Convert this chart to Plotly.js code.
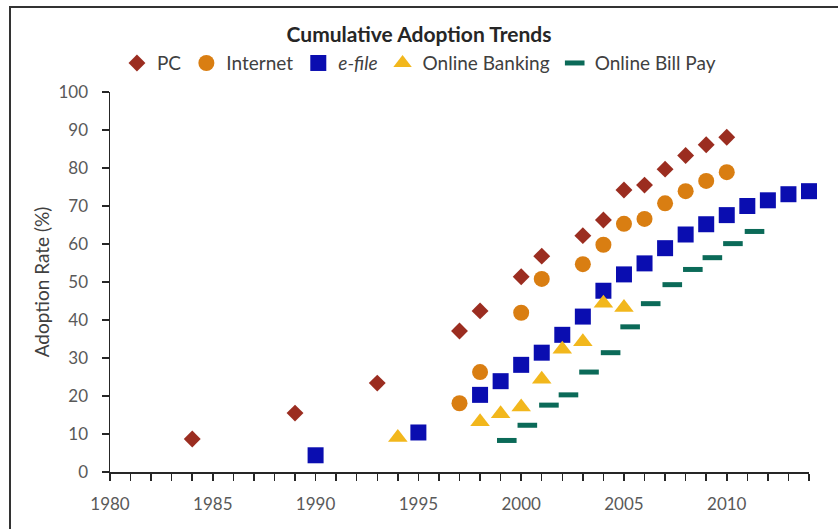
<!DOCTYPE html>
<html>
<head>
<meta charset="utf-8">
<script src="https://cdn.plot.ly/plotly-3.0.1.min.js"></script>
<style>
  html, body { margin: 0; padding: 0; background: #ffffff; }
  #chart { width: 838px; height: 529px; }
</style>
</head>
<body>
<div id="chart"></div>
<script>
// ---- Data ----
const pcYears = [1984, 1989, 1993, 1997, 1998, 2000, 2001, 2003, 2004, 2005, 2006, 2007, 2008, 2009, 2010];
const pcValues = [8.7, 15.5, 23.4, 37.1, 42.4, 51.4, 56.8, 62.2, 66.3, 74.2, 75.5, 79.7, 83.3, 86.1, 88.1];

const internetYears = [1997, 1998, 2000, 2001, 2003, 2004, 2005, 2006, 2007, 2008, 2009, 2010];
const internetValues = [18.1, 26.3, 41.9, 50.8, 54.7, 59.8, 65.3, 66.6, 70.7, 73.9, 76.6, 78.9];

const efileYears = [1990, 1995, 1998, 1999, 2000, 2001, 2002, 2003, 2004, 2005, 2006, 2007, 2008, 2009, 2010, 2011, 2012, 2013, 2014];
const efileValues = [4.4, 10.4, 20.3, 23.9, 28.2, 31.4, 36.1, 40.9, 47.7, 52.0, 54.9, 58.9, 62.5, 65.2, 67.6, 70.0, 71.5, 73.1, 73.9];

const bankingYears = [1994, 1998, 1999, 2000, 2001, 2002, 2003, 2004, 2005];
const bankingValues = [9.1, 13.2, 15.3, 17.1, 24.4, 32.3, 34.3, 44.4, 43.3];

const billPayYears = [1999.3, 2000.3, 2001.35, 2002.3, 2003.3, 2004.35, 2005.3, 2006.3, 2007.35, 2008.35, 2009.3, 2010.3, 2011.35];
const billPayValues = [8.3, 12.3, 17.6, 20.3, 26.3, 31.4, 38.2, 44.3, 49.3, 53.3, 56.4, 60.1, 63.3];

const seriesNames = ['PC', 'Internet', '<i>e-file</i>', 'Online Banking', 'Online Bill Pay'];
const chartTitle = 'Cumulative Adoption Trends';
const yAxisTitle = 'Adoption Rate (%)';
const xRange = [1980, 2014];
const yRange = [0, 100];

const FONT = 'Lato, "Open Sans", sans-serif';

const traces = [
  {
    x: pcYears, y: pcValues, name: seriesNames[0], type: 'scatter', mode: 'markers', cliponaxis: false,
    marker: { symbol: 'diamond', size: 13, color: '#9B2D20', line: { width: 0 } }
  },
  {
    x: internetYears, y: internetValues, name: seriesNames[1], type: 'scatter', mode: 'markers', cliponaxis: false,
    marker: { symbol: 'circle', size: 16, color: '#D97E12', line: { width: 0 } }
  },
  {
    x: efileYears, y: efileValues, name: seriesNames[2], type: 'scatter', mode: 'markers', cliponaxis: false,
    marker: { symbol: 'square', size: 16, color: '#0A0DB0', line: { width: 0 } }
  },
  {
    x: bankingYears, y: bankingValues, name: seriesNames[3], type: 'scatter', mode: 'markers', cliponaxis: false,
    marker: { symbol: 'triangle-up', size: 17, color: '#F2B71C', line: { width: 0 } }
  },
  {
    x: billPayYears, y: billPayValues, name: seriesNames[4], type: 'scatter', mode: 'markers', cliponaxis: false,
    marker: { symbol: 'line-ew', size: 14, color: '#0B6A58', line: { width: 5, color: '#0B6A58' } }
  }
];

const layout = {
  width: 838,
  height: 529,
  margin: { l: 110, r: 29, t: 92, b: 57 },
  paper_bgcolor: '#ffffff',
  plot_bgcolor: '#ffffff',
  font: { family: FONT, size: 15, color: '#404040' },
  title: {
    text: '<b>' + chartTitle + '</b>',
    font: { family: FONT, size: 21, color: '#262626' },
    x: 0.5, xref: 'container', xanchor: 'center',
    y: 1 - 35 / 529, yref: 'container', yanchor: 'middle'
  },
  showlegend: true,
  legend: {
    orientation: 'h',
    x: 0.442, xanchor: 'center',
    y: 1.076, yanchor: 'middle',
    font: { family: FONT, size: 19, color: '#404040' },
    bgcolor: 'rgba(0,0,0,0)',
    itemwidth: 30,
    traceorder: 'normal'
  },
  xaxis: {
    range: xRange,
    showgrid: false,
    zeroline: false,
    showline: true,
    linecolor: '#262626',
    linewidth: 1.5,
    ticks: 'outside',
    ticklen: 7,
    tickwidth: 1.5,
    tickcolor: '#262626',
    dtick: 5,
    tick0: 1980,
    ticklabelstandoff: 9,
    tickfont: { family: FONT, size: 17, color: '#595959' },
    minor: { dtick: 1, ticks: 'outside', ticklen: 7, tickwidth: 1.5, tickcolor: '#262626', showgrid: false },
    fixedrange: true
  },
  yaxis: {
    range: yRange,
    showgrid: false,
    zeroline: false,
    showline: true,
    linecolor: '#262626',
    linewidth: 1.5,
    ticks: 'outside',
    ticklen: 7,
    tickwidth: 1.5,
    tickcolor: '#262626',
    dtick: 10,
    ticklabelstandoff: 10,
    tickfont: { family: FONT, size: 17, color: '#595959' },
    title: { text: yAxisTitle, font: { family: FONT, size: 19, color: '#404040' }, standoff: 4 },
    fixedrange: true
  },
  shapes: [
    {
      type: 'rect', xref: 'paper', yref: 'paper',
      x0: -100 / 699, x1: 1.5, y0: -0.5, y1: 465 / 380,
      line: { color: '#333333', width: 2 }, fillcolor: 'rgba(0,0,0,0)', layer: 'below'
    }
  ]
};

Plotly.newPlot('chart', traces, layout, { displayModeBar: false, staticPlot: true });
</script>
</body>
</html>
